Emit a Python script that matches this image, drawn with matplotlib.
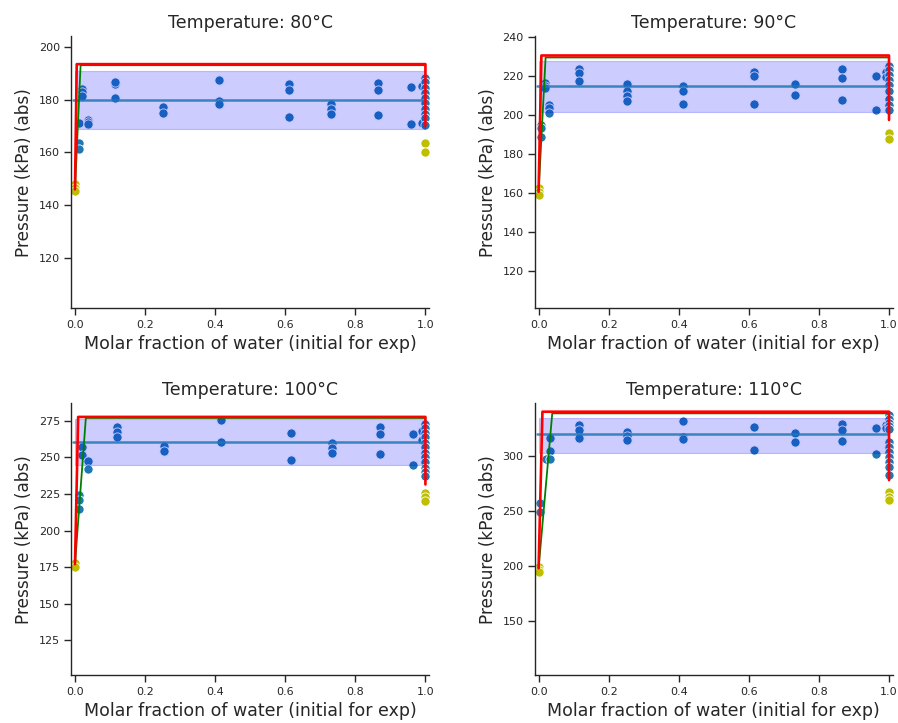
import numpy as np
import matplotlib.pyplot as plt
import seaborn as sns
from matplotlib.ticker import MultipleLocator

sns.set_style("ticks")
sns.set_context("paper")

temps = [80, 90, 100, 110]

# experimental points (x = initial molar fraction of water, p = kPa abs)
x80 = [0.012]*3 + [0.019]*3 + [0.037]*3 + [0.115]*3 + [0.25]*2 + [0.41]*3 + [0.61]*3 + [0.73]*3 + [0.865]*3 + [0.96]*2 + [0.99]*2 + [1.0]*10
p80 = [171.2, 163.4, 161.2, 184, 183, 181.3, 172.2, 171.3, 170.6, 185.9, 186.5, 180.6, 177.2, 175,
       187.4, 179.4, 178.4, 185.9, 183.6, 173.5, 178.3, 176.4, 174.5, 186.4, 183.5, 174, 184.6, 170.7,
       185, 171, 188, 186.5, 184.5, 182.5, 180.5, 178.5, 176.5, 174.5, 173, 170.5]
x90 = [0.006]*3 + [0.017]*3 + [0.031]*3 + [0.115]*3 + [0.252]*4 + [0.412]*3 + [0.614]*3 + [0.731]*2 + [0.867]*3 + [0.962]*2 + [0.99]*2 + [1.0]*9
p90 = [194.6, 193.1, 188.8, 216.4, 214.6, 213.5, 204.8, 203.3, 201, 223.2, 221.5, 217.2,
       215.5, 212.1, 209.5, 207, 214.6, 212.1, 205.3, 221.8, 219.7, 205.3, 215.5, 209.9,
       223.6, 218.6, 207.5, 219.7, 202.2, 222, 219.5, 225, 223, 220.5, 218, 215, 212, 208, 205, 202.5]
x100 = [0.011]*3 + [0.019]*2 + [0.038]*2 + [0.12]*3 + [0.254]*2 + [0.417]*2 + [0.617]*2 + [0.734]*3 + [0.869]*3 + [0.964]*2 + [0.99]*2 + [1.0]*12
p100 = [224.6, 221.2, 215, 257.1, 251.4, 247.5, 242.3, 270.9, 267.4, 264.3, 257.8, 254.4,
        275.7, 260.6, 266.5, 248.2, 260.1, 256.7, 253.3, 270.9, 265.9, 252.1, 265.9, 244.6,
        268, 262, 273, 270, 267, 264, 260, 257, 253, 250, 247, 243, 240, 237]
x110 = [0.005]*2 + [0.02] + [0.032]*3 + [0.115]*3 + [0.253]*3 + [0.412]*3 + [0.614]*2 + [0.731]*2 + [0.867]*3 + [0.962]*2 + [0.99]*2 + [1.0]*12
p110 = [257.4, 249.2, 296.6, 315.7, 304.2, 296.6, 327.7, 323.2, 315.7, 321.7, 318.1, 314.1,
        331.4, 317.2, 315.1, 326.3, 305.1, 320.2, 312.7, 328.4, 323.2, 313.2, 324.8, 301.2,
        327.7, 324.8, 336.8, 333, 330, 327, 324, 312.7, 308.2, 303.6, 299.1, 294.6, 290, 282.4]

# pure component pressures (yellow)
pure_x = {80: [0, 0, 0, 1, 1], 90: [0, 0, 0, 1, 1], 100: [0, 0, 1, 1, 1], 110: [0, 0, 0, 1, 1, 1]}
pure_p = {80: [148, 146.5, 145.3, 163.4, 160.1],
          90: [162.3, 160.3, 159, 190.5, 187.4],
          100: [177.5, 175, 225.8, 223.2, 220.5],
          110: [199.3, 196.5, 194.8, 267.4, 262.8, 259.8]}

# model curves
red_x = {80: [0, 0.005, 1, 1], 90: [0, 0.008, 1, 1], 100: [0, 0.009, 1, 1], 110: [0, 0.011, 1, 1]}
red_p = {80: [146, 193.4, 193.4, 170], 90: [160.6, 230.3, 230.3, 197.3],
         100: [177, 277.7, 277.7, 231.5], 110: [198, 339.9, 339.9, 277.9]}
green_x = {80: [0, 0.016, 1], 90: [0, 0.02, 1], 100: [0, 0.031, 1], 110: [0, 0.039, 1]}
green_p = {80: [146, 193, 193], 90: [160.6, 229.3, 229.3], 100: [177, 277, 277], 110: [198, 338.4, 338.4]}

# mean and band of the experiments
p_mean = {80: 179.8, 90: 214.6, 100: 260.8, 110: 319.3}
p_low = {80: 168.8, 90: 201.4, 100: 244.8, 110: 302.1}
p_high = {80: 190.9, 90: 227.4, 100: 276.0, 110: 334.5}

ytop = {80: 204, 90: 240.2, 100: 287, 110: 347.5}
ystep = {80: 20, 90: 20, 100: 25, 110: 50}

exp_x = {80: x80, 90: x90, 100: x100, 110: x110}
exp_p = {80: p80, 90: p90, 100: p100, 110: p110}

fig, axes = plt.subplots(2, 2, figsize=(8.98, 7.23), dpi=100)
fig.subplots_adjust(left=0.0796, right=0.9939, top=0.95, bottom=0.066, wspace=0.297, hspace=0.35)

for ax, t in zip(axes.flat, temps):
    ax.scatter(exp_x[t], exp_p[t], s=44, color="tab:blue", edgecolor="white", linewidth=0.6, zorder=2)
    ax.scatter(pure_x[t], pure_p[t], s=44, color="y", edgecolor="white", linewidth=0.6, zorder=2)
    ax.fill_between([0, 1], [p_low[t]]*2, [p_high[t]]*2, color="blue", alpha=0.2, zorder=3)
    ax.plot([-0.005, 0.995], [p_mean[t]]*2, color="tab:blue", lw=1.8, alpha=0.85, zorder=3.5)
    ax.plot(green_x[t], green_p[t], color="g", lw=1.3, zorder=4)
    ax.plot(red_x[t], red_p[t], color="r", lw=1.9, zorder=5)

    ax.set_xlim(-0.01, 1.01)
    ax.set_ylim(101, ytop[t])
    ax.yaxis.set_major_locator(MultipleLocator(ystep[t]))
    ax.set_title(f"Temperature: {t}°C", fontsize=12.5)
    ax.set_xlabel("Molar fraction of water (initial for exp)", fontsize=12.5)
    ax.set_ylabel("Pressure (kPa) (abs)", fontsize=12.2)
    ax.tick_params(labelsize=8)
    sns.despine(ax=ax)

fig.savefig("out.png", dpi=100)
